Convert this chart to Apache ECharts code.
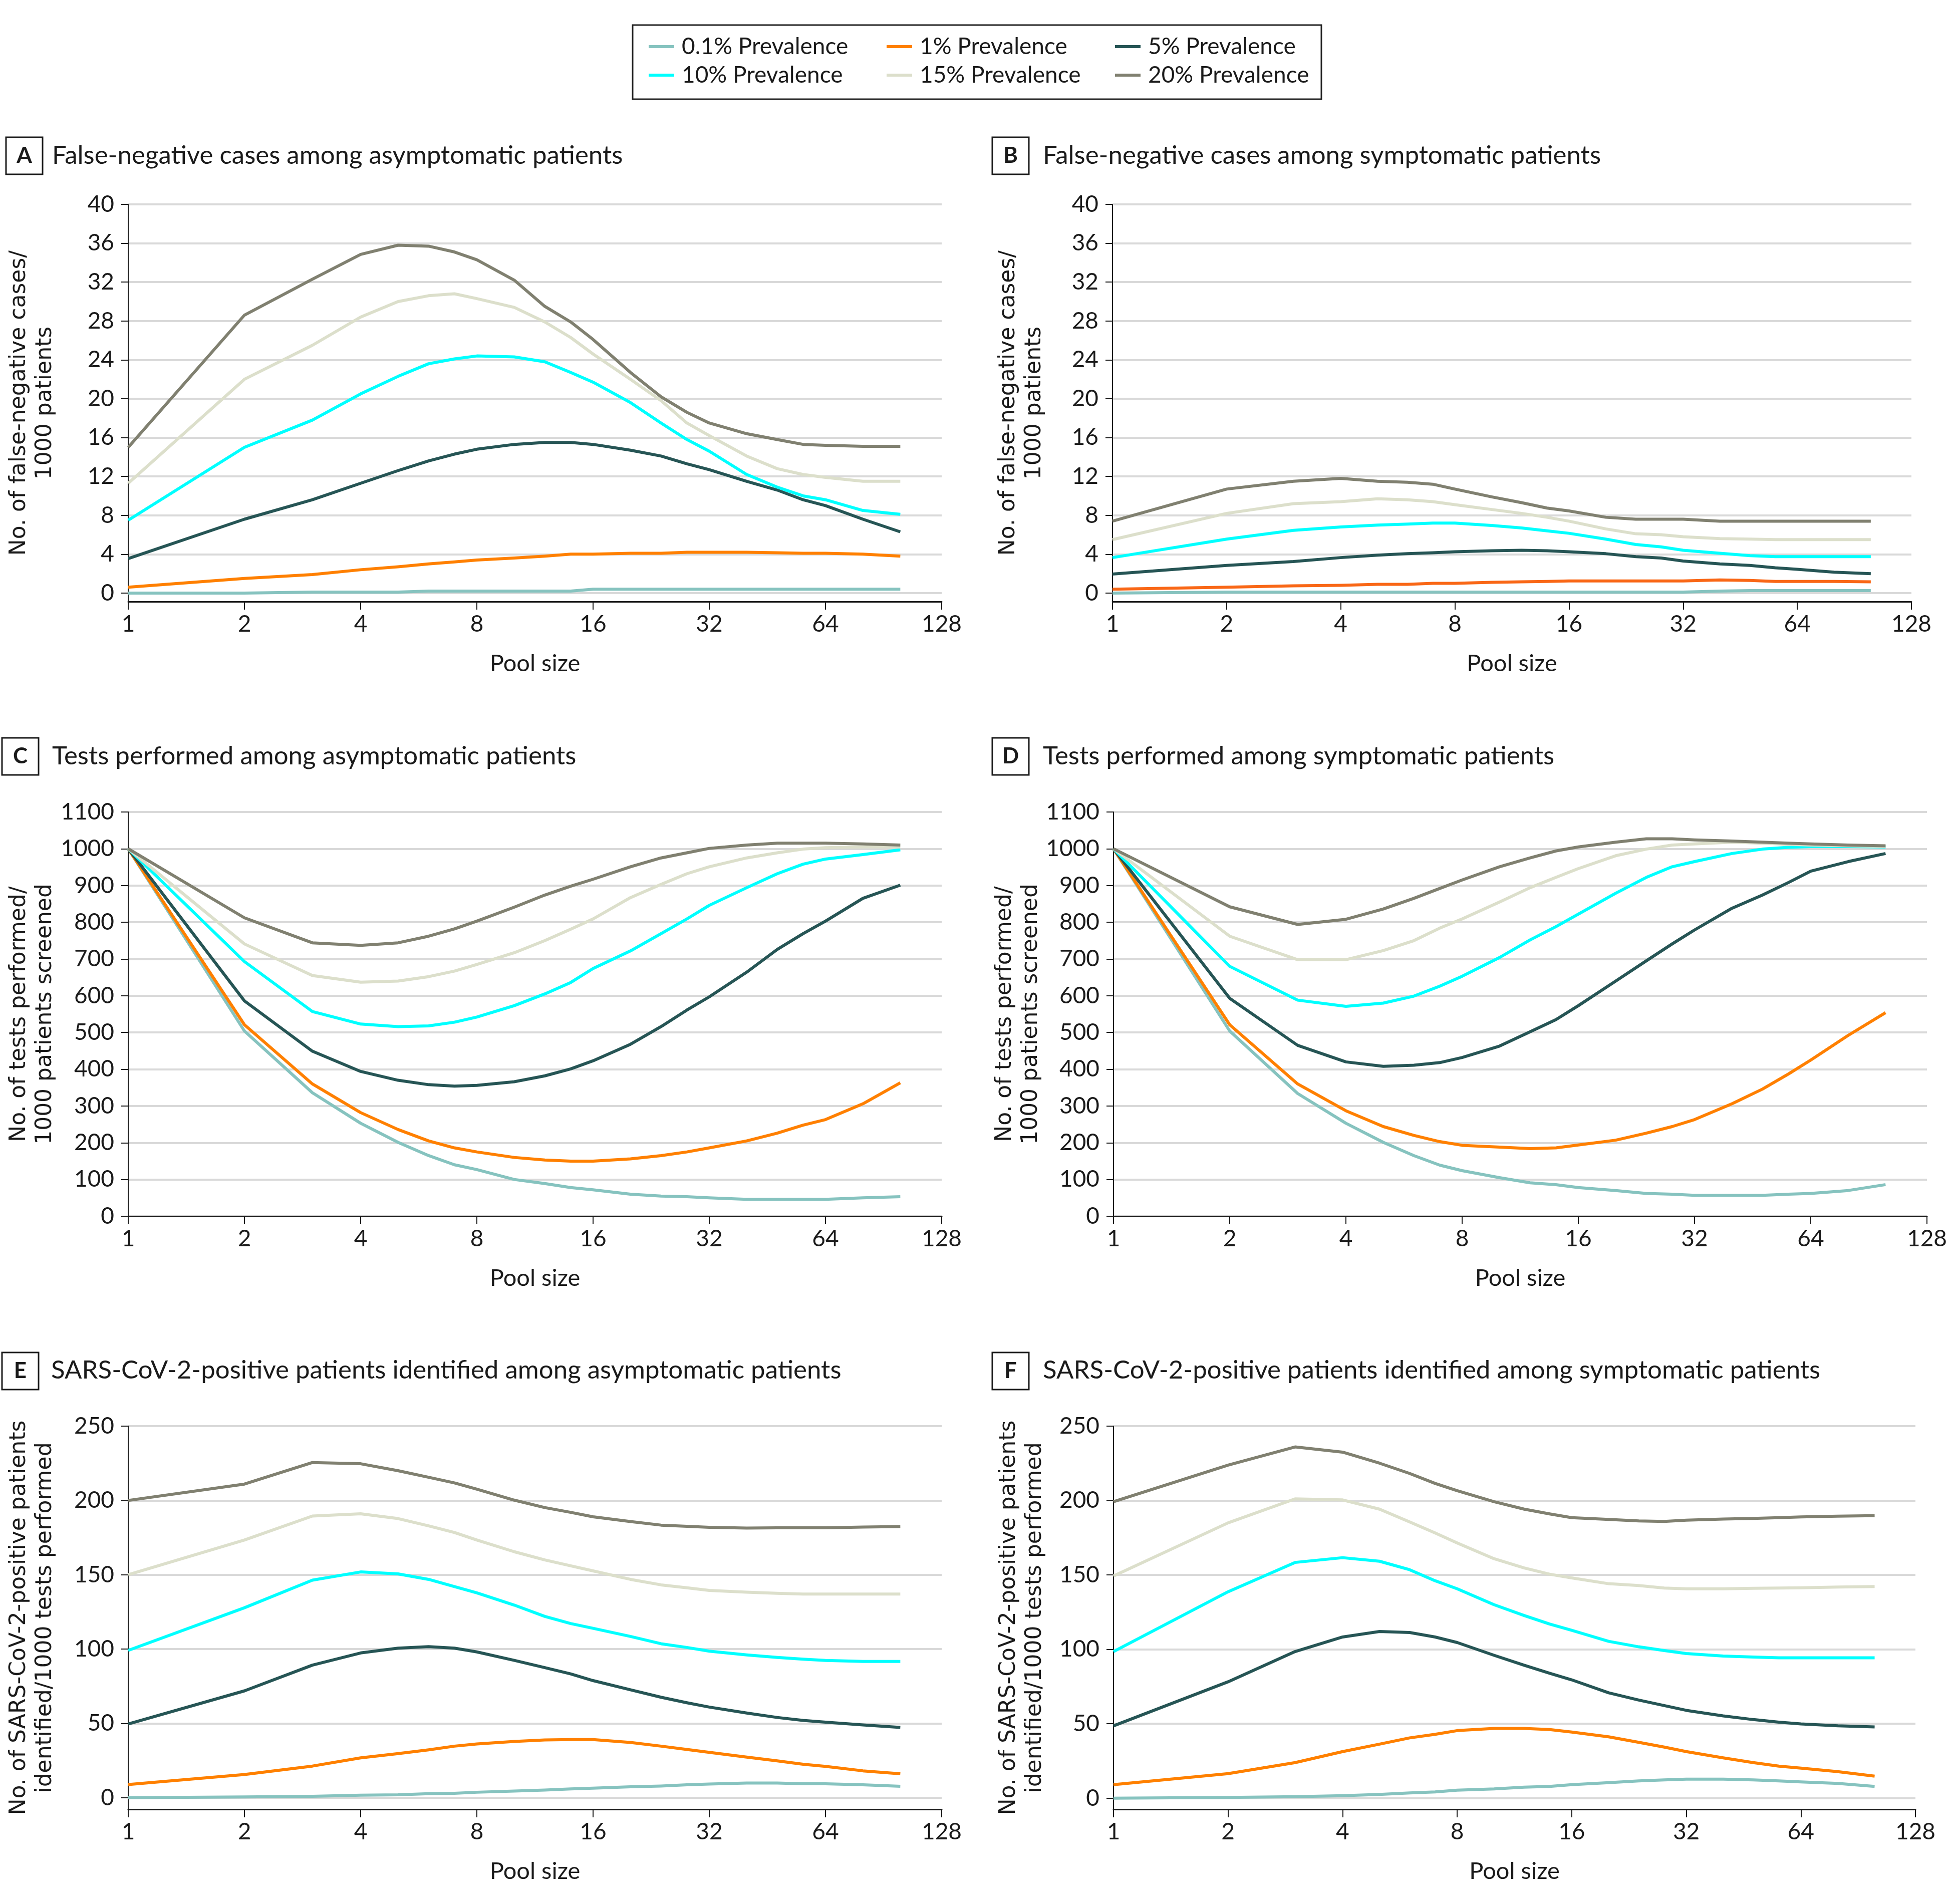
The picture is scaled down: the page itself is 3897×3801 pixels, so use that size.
<!DOCTYPE html>
<html><head><meta charset="utf-8">
<script src="https://cdn.jsdelivr.net/npm/echarts@6/dist/echarts.min.js"></script>
<style>html,body{margin:0;padding:0;background:#fff}#c{width:3897px;height:3801px}</style>
</head><body><div id="c"></div>
<script>
// ---------- DATA ----------
const poolSizes = [1,2,3,4,5,6,7,8,10,12,14,16,20,24,28,32,40,48,56,64,80,100];
const xTicks = [1,2,4,8,16,32,64,128];
const prevalenceNames = ['0.1% Prevalence','1% Prevalence','5% Prevalence','10% Prevalence','15% Prevalence','20% Prevalence'];
const fnTicks = [0,4,8,12,16,20,24,28,32,36,40];
const testTicks = [0,100,200,300,400,500,600,700,800,900,1000,1100];
const posTicks = [0,50,100,150,200,250];

// A: False-negative cases among asymptomatic patients
const fnAsym01 = [0,0,0.1,0.1,0.1,0.2,0.2,0.2,0.2,0.2,0.2,0.4,0.4,0.4,0.4,0.4,0.4,0.4,0.4,0.4,0.4,0.4];
const fnAsym1  = [0.6,1.5,1.9,2.4,2.7,3.0,3.2,3.4,3.6,3.8,4.0,4.0,4.1,4.1,4.2,4.2,4.2,4.15,4.1,4.1,4.0,3.8];
const fnAsym5  = [3.55,7.6,9.6,11.3,12.6,13.6,14.3,14.8,15.3,15.5,15.5,15.3,14.7,14.1,13.3,12.7,11.5,10.6,9.6,9.0,7.6,6.3];
const fnAsym10 = [7.5,15.0,17.8,20.5,22.3,23.6,24.1,24.4,24.3,23.8,22.7,21.7,19.6,17.5,15.8,14.6,12.2,10.9,10.0,9.6,8.5,8.1];
const fnAsym15 = [11.3,22.0,25.5,28.4,30.0,30.6,30.8,30.3,29.4,27.9,26.3,24.6,22.0,19.8,17.5,16.2,14.1,12.8,12.2,11.9,11.5,11.5];
const fnAsym20 = [15.0,28.6,32.3,34.85,35.8,35.7,35.1,34.3,32.2,29.5,27.9,26.1,22.7,20.2,18.6,17.5,16.4,15.8,15.3,15.2,15.1,15.1];

// B: False-negative cases among symptomatic patients
const fnSym01 = [0,0.1,0.1,0.1,0.1,0.1,0.1,0.1,0.1,0.1,0.1,0.1,0.1,0.1,0.1,0.1,0.2,0.25,0.25,0.25,0.25,0.25];
const fnSym1  = [0.4,0.6,0.75,0.8,0.9,0.9,1.0,1.0,1.1,1.15,1.2,1.25,1.25,1.25,1.25,1.25,1.35,1.3,1.2,1.2,1.2,1.15];
const fnSym5  = [1.95,2.85,3.25,3.65,3.9,4.05,4.15,4.25,4.35,4.4,4.35,4.25,4.05,3.75,3.6,3.3,3.0,2.85,2.6,2.45,2.15,2.0];
const fnSym10 = [3.65,5.55,6.45,6.8,7.0,7.1,7.2,7.2,6.95,6.7,6.4,6.15,5.55,5.0,4.75,4.4,4.1,3.85,3.75,3.75,3.75,3.75];
const fnSym15 = [5.5,8.2,9.2,9.4,9.7,9.6,9.4,9.1,8.6,8.2,7.8,7.4,6.6,6.1,6.0,5.8,5.6,5.55,5.5,5.5,5.5,5.5];
const fnSym20 = [7.4,10.7,11.5,11.8,11.5,11.4,11.2,10.7,9.9,9.3,8.75,8.45,7.8,7.6,7.6,7.6,7.4,7.4,7.4,7.4,7.4,7.4];

// C: Tests performed among asymptomatic patients
const tAsym01 = [1000,504,336,253,201,165,140,127,100,89,78,72,60,55,53,50,46,46,46,46,50,53];
const tAsym1  = [1000,521,360,282,236,205,186,175,160,153,150,150,156,165,175,186,205,226,248,263,306,363];
const tAsym5  = [1000,586,449,394,370,358,354,356,366,382,401,423,468,516,561,597,664,726,769,803,865,901];
const tAsym10 = [1000,693,557,523,516,518,528,542,573,605,636,674,722,769,809,846,894,932,958,972,984,997];
const tAsym15 = [1000,741,655,637,640,652,667,685,717,750,781,809,867,903,932,951,975,989,999,1003,1005,1005];
const tAsym20 = [1000,812,744,737,744,762,782,803,841,874,898,917,951,975,989,1001,1010,1015,1015,1015,1013,1010];

// D: Tests performed among symptomatic patients
const tSym01 = [1000,504,334,253,201,165,139,124,105,91,86,78,70,62,60,57,57,57,60,62,70,86];
const tSym1  = [1000,521,360,287,244,220,203,193,188,184,186,194,207,226,244,263,306,346,387,425,492,554];
const tSym5  = [1000,593,465,420,408,411,418,432,463,502,535,573,640,695,741,779,838,874,908,939,965,987];
const tSym10 = [1000,680,588,571,580,599,626,653,704,752,788,822,879,922,951,965,987,999,1004,1006,1006,1005];
const tSym15 = [1000,762,698,698,723,750,784,809,855,894,922,946,981,999,1010,1013,1018,1015,1012,1010,1008,1006];
const tSym20 = [1000,842,794,808,836,865,892,915,951,975,994,1005,1018,1027,1027,1024,1021,1018,1015,1013,1010,1008];

// E: SARS-CoV-2-positive patients identified among asymptomatic patients
const pAsym01 = [0,0.5,1.0,1.7,2.0,2.7,3.0,3.7,4.5,5.2,5.9,6.4,7.4,7.9,8.7,9.2,9.9,9.9,9.4,9.4,8.7,7.7];
const pAsym1  = [8.9,15.6,21.3,26.8,29.7,32.2,34.7,36.2,37.9,38.9,39.1,39.1,37.2,34.7,32.5,30.5,27.3,24.8,22.5,21.1,18.1,16.1];
const pAsym5  = [49.6,71.9,89.2,97.4,100.6,101.6,100.6,98.1,92.4,87.5,83.3,78.8,72.6,67.6,63.9,61,57,54,52,50.8,49,47.3];
const pAsym10 = [99.1,127.8,146.4,151.9,150.6,146.9,142,137.8,129.6,122,117.2,114,108.5,103.6,101.1,98.6,96.1,94.4,93.2,92.4,91.7,91.7];
const pAsym15 = [150,173.4,189.5,191,187.8,182.9,178.4,173.4,165.5,160,156,152.6,146.9,143.2,141.2,139.5,138.3,137.5,137,137,137,137];
const pAsym20 = [200,211,225.5,224.7,220,215.6,211.8,207.6,200.2,195.2,192,189,185.8,183.4,182.6,181.9,181.4,181.6,181.6,181.6,182.1,182.4];

// F: SARS-CoV-2-positive patients identified among symptomatic patients
const pSym01 = [0,0.5,1.0,1.7,2.5,3.5,4.2,5.4,6.2,7.4,7.9,9.1,10.4,11.6,12.3,12.8,12.8,12.3,11.6,10.9,9.9,7.9];
const pSym1  = [9.1,16.5,23.9,31.3,36.3,40.5,42.9,45.4,46.9,46.9,46.1,44.4,41.2,37.5,34.3,31.3,27.1,23.9,21.5,20.2,17.8,14.8];
const pSym5  = [48.6,78.2,98.5,108.3,112,111.3,108.3,104.6,96,89.3,83.9,79.5,70.8,65.9,62.2,59,55.3,52.8,51.1,49.9,48.6,47.9];
const pSym10 = [98.5,138.7,158.4,161.6,159.2,153.5,146.1,140.7,130,122.7,117,112.8,105.4,101.7,99.2,97.2,95.5,94.8,94.3,94.3,94.3,94.3];
const pSym15 = [149.3,185,201.1,200.4,194.2,185.6,178.2,171.5,160.9,154.7,150.5,148,144.1,142.9,141.2,140.7,140.7,141,141.2,141.4,141.9,142.2];
const pSym20 = [199.2,223.8,236,232.5,225.1,218.2,211.5,206.6,199.2,194.2,191,188.5,187.3,186.3,186,186.8,187.6,188,188.5,189,189.5,189.8];

// ---------- STYLE / LAYOUT ----------
const FONT = 'Lato, "Open Sans", sans-serif';
const TXT = '#1a1a1a';
const colors = ['#86c3bf','#ff8000','#265555','#00ffff','#dcdfcb','#808070'];

const panels = [
  {letter:'A', title:'False-negative cases among asymptomatic patients',
   grid:{left:256, top:408, width:1624, height:793}, yMin:-0.88, yMax:40, ticks:fnTicks,
   yName:'No. of false-negative cases/\n1000 patients', nameGap:139,
   box:[12,274], titleX:104, titleY:311,
   series:[fnAsym01,fnAsym1,fnAsym5,fnAsym10,fnAsym15,fnAsym20]},
  {letter:'B', title:'False-negative cases among symptomatic patients',
   grid:{left:2221, top:408, width:1595, height:793}, yMin:-0.88, yMax:40, ticks:fnTicks,
   yName:'No. of false-negative cases/\n1000 patients', nameGap:129,
   box:[1981,274], titleX:2082, titleY:311, orange:'#f96716',
   series:[fnSym01,fnSym1,fnSym5,fnSym10,fnSym15,fnSym20]},
  {letter:'C', title:'Tests performed among asymptomatic patients',
   grid:{left:256, top:1621, width:1624, height:807}, yMin:0, yMax:1100, ticks:testTicks,
   yName:'No. of tests performed/\n1000 patients screened', nameGap:139,
   box:[4,1473], titleX:104, titleY:1510,
   series:[tAsym01,tAsym1,tAsym5,tAsym10,tAsym15,tAsym20]},
  {letter:'D', title:'Tests performed among symptomatic patients',
   grid:{left:2223, top:1621, width:1624, height:807}, yMin:0, yMax:1100, ticks:testTicks,
   yName:'No. of tests performed/\n1000 patients screened', nameGap:133,
   box:[1981,1473], titleX:2082, titleY:1510,
   series:[tSym01,tSym1,tSym5,tSym10,tSym15,tSym20]},
  {letter:'E', title:'SARS-CoV-2-positive patients identified among asymptomatic patients',
   grid:{left:256, top:2847, width:1624, height:765}, yMin:-7.8, yMax:250, ticks:posTicks,
   yName:'No. of SARS-CoV-2-positive patients\nidentified/1000 tests performed', nameGap:139,
   box:[4,2700], titleX:102, titleY:2736,
   series:[pAsym01,pAsym1,pAsym5,pAsym10,pAsym15,pAsym20]},
  {letter:'F', title:'SARS-CoV-2-positive patients identified among symptomatic patients',
   grid:{left:2223, top:2847, width:1601, height:765}, yMin:-7.5, yMax:250, ticks:posTicks,
   yName:'No. of SARS-CoV-2-positive patients\nidentified/1000 tests performed', nameGap:130,
   box:[1981,2700], titleX:2082, titleY:2736,
   series:[pSym01,pSym1,pSym5,pSym10,pSym15,pSym20]}
];

const grids = [], xAxes = [], yAxes = [], series = [], graphics = [];
panels.forEach((p, i) => {
  grids.push(Object.assign({outerBoundsMode:'none', containLabel:false}, p.grid));
  xAxes.push({
    type:'log', logBase:2, min:xTicks[0], max:xTicks[xTicks.length-1], gridIndex:i,
    axisLine:{onZero:false, lineStyle:{color:TXT, width:3}},
    axisTick:{show:true, length:16, lineStyle:{color:TXT, width:2}},
    minorTick:{show:false}, splitLine:{show:false},
    axisLabel:{fontSize:46, fontFamily:FONT, color:TXT, margin:22, formatter:v => String(v)},
    name:'Pool size', nameLocation:'middle', nameGap:100,
    nameTextStyle:{fontSize:47, fontFamily:FONT, color:TXT}
  });
  yAxes.push({
    type:'value', gridIndex:i, min:p.yMin, max:p.yMax,
    axisLine:{show:true, onZero:false, lineStyle:{color:TXT, width:2}},
    axisTick:{show:true, length:14, lineStyle:{color:TXT, width:2}, customValues:p.ticks},
    axisLabel:{fontSize:46, fontFamily:FONT, color:TXT, margin:28, customValues:p.ticks, formatter:v => String(v)},
    splitLine:{show:true, lineStyle:{color:'#d9d9d9', width:4}},
    name:p.yName, nameLocation:'middle', nameGap:p.nameGap, nameRotate:90,
    nameTextStyle:{fontSize:44, fontFamily:'"DejaVu Sans", Verdana, sans-serif', color:TXT, lineHeight:52, align:'center'}
  });
  p.series.forEach((vals, k) => {
    const col = (k === 1 && p.orange) ? p.orange : colors[k];
    series.push({
      type:'line', name:prevalenceNames[k], xAxisIndex:i, yAxisIndex:i,
      data: poolSizes.map((x, j) => [x, vals[j]]),
      showSymbol:false, symbol:'none', smooth:false,
      lineStyle:{width:6, color:col, join:'round'}, itemStyle:{color:colors[k]},
      z: 2 + k
    });
  });
  graphics.push({type:'rect', shape:{x:p.box[0], y:p.box[1], width:73, height:74},
    style:{fill:'#fff', stroke:TXT, lineWidth:3}});
  graphics.push({type:'text', x:p.box[0]+36.5, y:p.box[1]+37,
    style:{text:p.letter, fontSize:44, fontWeight:'bold', fontFamily:FONT, fill:TXT, align:'center', verticalAlign:'middle'}});
  graphics.push({type:'text', x:p.titleX, y:p.titleY,
    style:{text:p.title, fontSize:51, fontFamily:FONT, fill:TXT, align:'left', verticalAlign:'middle'}});
});

// legend frame
graphics.push({type:'rect', shape:{x:1263, y:50, width:1375, height:148},
  style:{fill:'none', stroke:'#222', lineWidth:3}});

const legendX = [1295, 1770, 2226];
const legendY = [66, 123];
const legends = prevalenceNames.map((n, i) => ({
  data:[n], left:legendX[i % 3], top:legendY[Math.floor(i / 3)], padding:0,
  icon:'rect', itemWidth:51, itemHeight:6, selectedMode:false,
  textStyle:{fontSize:46, fontFamily:FONT, color:TXT, lineHeight:54, padding:[0,0,0,10]}
}));

const chart = echarts.init(document.getElementById('c'), null, {renderer:'canvas', width:3897, height:3801});
chart.setOption({
  animation:false, backgroundColor:'#fff',
  grid:grids, xAxis:xAxes, yAxis:yAxes, series:series, legend:legends, graphic:graphics
});
</script></body></html>
